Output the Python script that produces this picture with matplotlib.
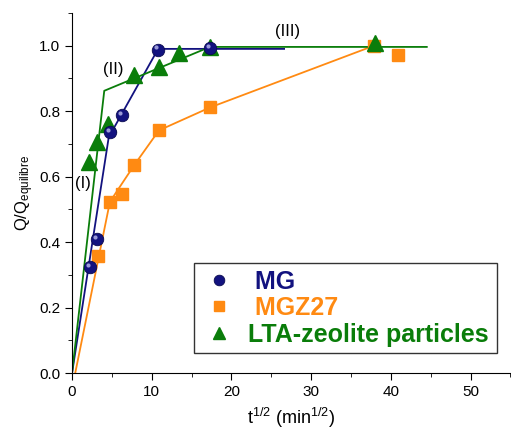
import matplotlib
matplotlib.use("Agg")
import matplotlib.pyplot as plt
from matplotlib.ticker import MultipleLocator
from matplotlib.transforms import offset_copy

plt.rcParams["font.family"] = ["Liberation Sans", "DejaVu Sans"]
plt.rcParams["mathtext.fontset"] = "custom"
plt.rcParams["mathtext.rm"] = "Liberation Sans"
plt.rcParams["mathtext.it"] = "Liberation Sans"

NAVY = "#12127f"
ORANGE = "#ff8a12"
GREEN = "#0a7d0a"

# measured points, sqrt(t) vs Q/Qeq
mg_x = [2.25, 3.1, 4.75, 6.3, 10.8, 17.3]
mg_y = [0.323, 0.409, 0.735, 0.789, 0.988, 0.993]
mgz_x = [3.2, 4.75, 6.25, 7.8, 10.9, 17.3, 37.9, 40.9]
mgz_y = [0.358, 0.523, 0.547, 0.635, 0.741, 0.811, 1.0, 0.97]
lta_x = [2.17, 3.17, 4.46, 7.75, 10.9, 13.4, 17.3, 37.96]
lta_y = [0.644, 0.707, 0.760, 0.911, 0.935, 0.976, 0.995, 1.008]

# multi-linear intraparticle diffusion fits
mg_fit_x = [0.0, 4.6, 10.8, 26.6]
mg_fit_y = [0.0, 0.72, 0.99, 0.99]
mgz_fit_x = [0.4, 4.75, 7.8, 10.9, 17.3, 37.9]
mgz_fit_y = [0.0, 0.523, 0.635, 0.741, 0.811, 1.0]
lta_fit_x = [0.0, 4.04, 17.3, 44.5]
lta_fit_y = [0.0, 0.862, 0.996, 0.996]

stage_labels = ["(I)", "(II)", "(III)"]
stage_x = [1.4, 5.2, 27.0]
stage_y = [0.578, 0.928, 1.042]

fig = plt.figure(figsize=(5.11, 4.29), dpi=100)
ax = fig.add_axes([0.141, 0.1305, 0.858, 0.8395])

ax.plot(mg_fit_x, mg_fit_y, color=NAVY, lw=1.3)
ax.plot(mgz_fit_x, mgz_fit_y, color=ORANGE, lw=1.3)
ax.plot(lta_fit_x, lta_fit_y, color=GREEN, lw=1.3)

ax.plot(mgz_x, mgz_y, ls="none", marker="s", ms=8, color=ORANGE,
        mec=ORANGE, label=" MGZ27", zorder=3)
ax.plot(lta_x, lta_y, ls="none", marker="^", ms=11, color=GREEN,
        mec=GREEN, label="LTA-zeolite particles", zorder=3)
ax.plot(mg_x, mg_y, ls="none", marker="o", ms=9, color=NAVY,
        mec="#0a0a50", mew=0.6, label=" MG", zorder=4)
# small highlight to give the spheres some shading
hl = offset_copy(ax.transData, fig=fig, x=-1.5, y=1.5, units="points")
ax.plot(mg_x, mg_y, ls="none", marker="o", ms=3, color="#9a9ad8",
        mec="none", transform=hl, zorder=5)

for s, x, y in zip(stage_labels, stage_x, stage_y):
    ax.text(x, y, s, fontsize=12, ha="center", va="center")

ax.set_xlim(0, 55)
ax.set_ylim(0, 1.1)
ax.xaxis.set_major_locator(MultipleLocator(10))
ax.xaxis.set_minor_locator(MultipleLocator(5))
ax.yaxis.set_major_locator(MultipleLocator(0.2))
ax.yaxis.set_minor_locator(MultipleLocator(0.1))
ax.yaxis.set_major_formatter(plt.FormatStrFormatter("%.1f"))
ax.tick_params(which="both", direction="out", labelsize=11)
ax.tick_params(which="major", length=5)
ax.tick_params(which="minor", length=3)
ax.spines["top"].set_visible(False)
ax.spines["right"].set_visible(False)

ax.set_xlabel(r"t$^{1/2}$ (min$^{1/2}$)", fontsize=13, labelpad=5)
ax.set_ylabel(r"Q/Q$_{\mathrm{equilibre}}$", fontsize=12, labelpad=2)

handles, labels = ax.get_legend_handles_labels()
order = [2, 0, 1]
leg = ax.legend([handles[i] for i in order], [labels[i] for i in order],
                loc="lower left", bbox_to_anchor=(0.279, 0.056, 0.691, 0.267),
                mode="expand", fancybox=False, edgecolor="black",
                prop={"size": 18, "weight": "bold"}, labelcolor="markerfacecolor",
                handlelength=1.5, handletextpad=0.4, labelspacing=0.1,
                borderpad=0.25, borderaxespad=0, markerscale=0.85)
leg.get_frame().set_linewidth(1.0)

fig.savefig("out.png", dpi=100)
